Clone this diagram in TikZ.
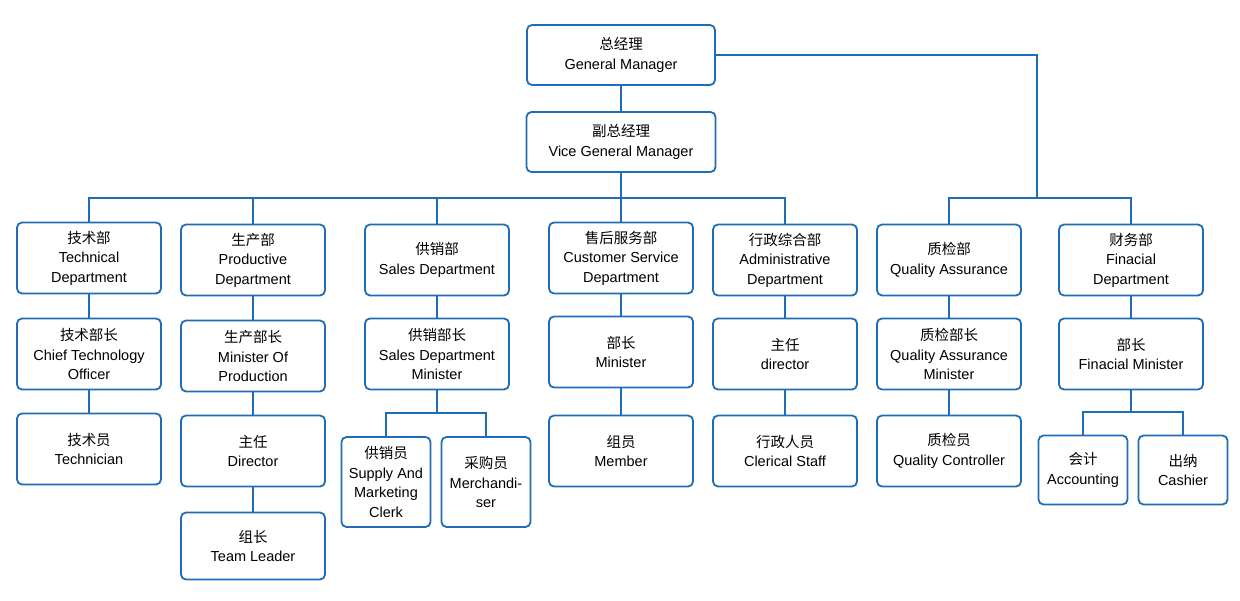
\documentclass[tikz,border=0pt]{standalone}
\usepackage{fontspec}
\setmainfont{Liberation Sans}
\newfontfamily\cjk{Noto Sans CJK SC}
\definecolor{boxblue}{HTML}{1F6EB5}
\tikzset{
  box/.style={draw=boxblue, line width=1.8pt, rounded corners=5pt, fill=white,
    align=center, inner sep=1pt, minimum width=144pt, minimum height=71pt,
    font=\fontsize{14.5}{19.5}\selectfont},
  small/.style={box, minimum width=89pt, minimum height=90pt},
  link/.style={draw=boxblue, line width=1.8pt}
}
\newcommand{\zh}[1]{{\cjk #1}}
\begin{document}
\begin{tikzpicture}[x=1pt,y=-1pt]
  \useasboundingbox (0,0) rectangle (1240,600);
  % top
  \node[box, minimum width=188pt, minimum height=60pt] (gm) at (621,55) {\zh{总经理}\\General Manager};
  \node[box, minimum width=189pt, minimum height=60pt] (vgm) at (621,142) {\zh{副总经理}\\Vice General Manager};
  % departments
  \node[box] (tech) at (89,258) {\zh{技术部}\\Technical\\Department};
  \node[box] (prod) at (253,260) {\zh{生产部}\\Productive\\Department};
  \node[box] (sales) at (437,260) {\zh{供销部}\\Sales Department};
  \node[box] (cust) at (621,258) {\zh{售后服务部}\\Customer Service\\Department};
  \node[box] (admin) at (785,260) {\zh{行政综合部}\\Administrative\\Department};
  \node[box] (qa) at (949,260) {\zh{质检部}\\Quality Assurance};
  \node[box] (fin) at (1131,260) {\zh{财务部}\\Finacial\\Department};
  % heads
  \node[box] (cto) at (89,354) {\zh{技术部长}\\Chief Technology\\Officer};
  \node[box] (mop) at (253,356) {\zh{生产部长}\\Minister Of\\Production};
  \node[box] (sdm) at (437,354) {\zh{供销部长}\\Sales Department\\Minister};
  \node[box] (min) at (621,352) {\zh{部长}\\Minister};
  \node[box] (dir) at (785,354) {\zh{主任}\\director};
  \node[box] (qam) at (949,354) {\zh{质检部长}\\Quality Assurance\\Minister};
  \node[box] (fmin) at (1131,354) {\zh{部长}\\Finacial Minister};
  % staff
  \node[box] (techn) at (89,449) {\zh{技术员}\\Technician};
  \node[box] (pdir) at (253,451) {\zh{主任}\\Director};
  \node[box, minimum height=67pt] (lead) at (253,546) {\zh{组长}\\Team Leader};
  \node[small] (clerk) at (386,482) {\zh{供销员}\\Supply And\\Marketing\\Clerk};
  \node[small] (merch) at (486,482) {\zh{采购员}\\Merchandi-\\ser};
  \node[box] (mem) at (621,451) {\zh{组员}\\Member};
  \node[box] (cler) at (785,451) {\zh{行政人员}\\Clerical Staff};
  \node[box] (qc) at (949,451) {\zh{质检员}\\Quality Controller};
  \node[small, minimum height=69pt] (acc) at (1083,470) {\zh{会计}\\Accounting};
  \node[small, minimum height=69pt] (cash) at (1183,470) {\zh{出纳}\\Cashier};
  % connectors
  \coordinate (bus) at (621,198);
  \coordinate (rbus) at (1037,198);
  \coordinate (sbus) at (437,413);
  \coordinate (fbus) at (1131,412);
  \draw[link] (gm) -- (vgm);
  \draw[link] (vgm) -- (bus);
  \foreach \d in {tech,prod,sales,cust,admin}
    \draw[link] (\d.north) |- (bus);
  \draw[link] (gm.east) -| (rbus);
  \foreach \d in {qa,fin}
    \draw[link] (\d.north) |- (rbus);
  \foreach \a/\b in {tech/cto,prod/mop,sales/sdm,cust/min,admin/dir,qa/qam,fin/fmin,
      cto/techn,mop/pdir,pdir/lead,min/mem,dir/cler,qam/qc}
    \draw[link] (\a) -- (\b);
  \draw[link] (sdm) -- (sbus);
  \foreach \d in {clerk,merch}
    \draw[link] (\d.north) |- (sbus);
  \draw[link] (fmin) -- (fbus);
  \foreach \d in {acc,cash}
    \draw[link] (\d.north) |- (fbus);
\end{tikzpicture}
\end{document}
